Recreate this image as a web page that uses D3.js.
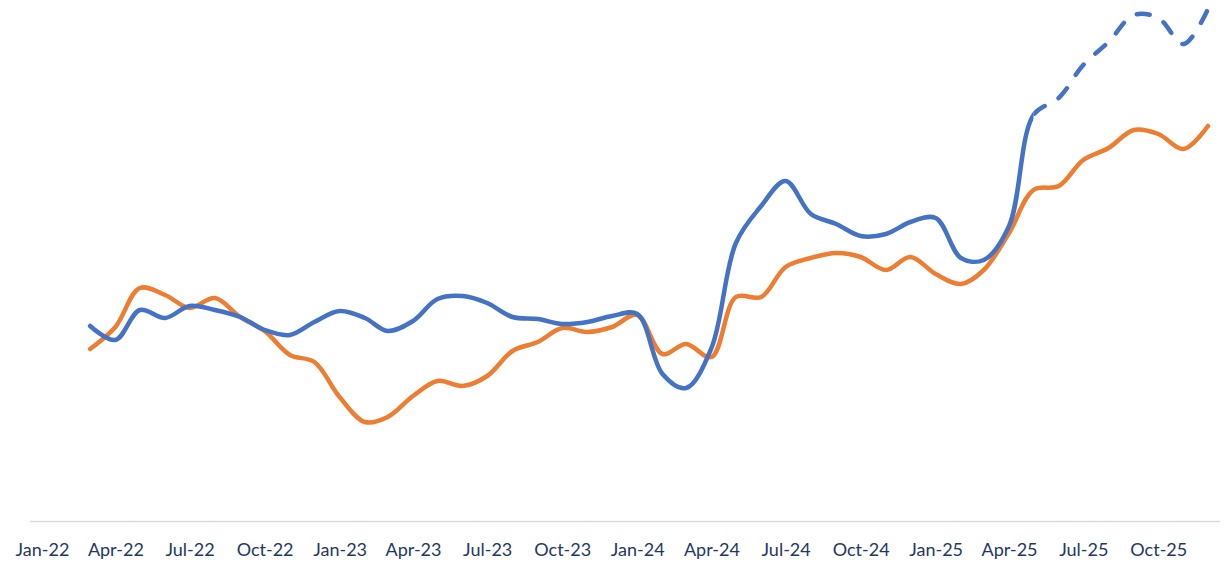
<!DOCTYPE html>
<html>
<head>
<meta charset="utf-8">
<script src="https://cdn.jsdelivr.net/npm/d3@7"></script>
<style>
  body { margin: 0; background: #fff; }
  svg { display: block; }
</style>
</head>
<body>
<div id="chart"></div>
<script>
var width = 1226;
var height = 561;

// months Mar-22 .. Dec-25
var months = ["2022-03","2022-04","2022-05","2022-06","2022-07","2022-08","2022-09","2022-10","2022-11","2022-12",
              "2023-01","2023-02","2023-03","2023-04","2023-05","2023-06","2023-07","2023-08","2023-09","2023-10","2023-11","2023-12",
              "2024-01","2024-02","2024-03","2024-04","2024-05","2024-06","2024-07","2024-08","2024-09","2024-10","2024-11","2024-12",
              "2025-01","2025-02","2025-03","2025-04","2025-05","2025-06","2025-07","2025-08","2025-09","2025-10","2025-11","2025-12"];

var blueValues = [195,181,211,203,215,211,204,191,186,199,
                  210,203,190,200,222,225,218,204,202,197,199,205,
                  207,147,133,173,278,315,340,307,297,285,287,299,
                  303,263,261,295,406,423,456,479,506,503,477,512];

var orangeValues = [172,194,233,226,213,223,204,190,166,159,
                    124,99,104,125,140,135,145,170,179,193,189,194,
                    206,167,177,164,224,224,254,263,268,264,251,264,
                    247,237,251,288,331,335,361,373,391,387,372,395];

// blue is dashed from here on (forecast)
var forecastStart = "2025-05";

var tickLabels = ["Jan-22","Apr-22","Jul-22","Oct-22","Jan-23","Apr-23","Jul-23","Oct-23",
                  "Jan-24","Apr-24","Jul-24","Oct-24","Jan-25","Apr-25","Jul-25","Oct-25"];

var parse = d3.timeParse("%Y-%m");

var svg = d3.select("#chart").append("svg")
  .attr("width", width)
  .attr("height", height);

var x = d3.scaleTime()
  .domain([parse("2022-01"), parse("2025-12")])
  .range([42, 1208]);

var y = d3.scaleLinear()
  .domain([0, 510])
  .range([521, 11]);

// axis line
svg.append("line")
  .attr("x1", 30).attr("x2", 1220)
  .attr("y1", 521.5).attr("y2", 521.5)
  .attr("stroke", "#d9d9d9")
  .attr("stroke-width", 1.5);

var xAxis = d3.axisBottom(x)
  .tickValues(tickLabels.map(function(t){ return d3.timeParse("%b-%y")(t); }))
  .tickFormat(d3.timeFormat("%b-%y"))
  .tickSize(0)
  .tickPadding(0);

var gx = svg.append("g")
  .attr("transform", "translate(0,521)")
  .call(xAxis);
gx.select(".domain").remove();
gx.selectAll("text")
  .attr("dy", 0)
  .attr("y", 35)
  .style("font-family", "Lato, 'Open Sans', sans-serif")
  .style("font-size", "18px")
  .style("fill", "#1f3864");

var line = d3.line()
  .x(function(d){ return x(parse(d.m)); })
  .y(function(d){ return y(d.v); })
  .curve(d3.curveCatmullRom.alpha(0.5));

var blue = months.map(function(m, i){ return {m: m, v: blueValues[i]}; });
var orange = months.map(function(m, i){ return {m: m, v: orangeValues[i]}; });
var xCut = x(parse(forecastStart));

var defs = svg.append("defs");
defs.append("clipPath").attr("id", "actual")
  .append("rect").attr("x", 0).attr("y", 0).attr("width", xCut).attr("height", height);
defs.append("clipPath").attr("id", "forecast")
  .append("rect").attr("x", xCut).attr("y", 0).attr("width", width - xCut).attr("height", height);

svg.append("path")
  .datum(orange)
  .attr("d", line)
  .attr("fill", "none")
  .attr("stroke", "#ed7d31")
  .attr("stroke-width", 4.5)
  .attr("stroke-linecap", "round")
  .attr("stroke-linejoin", "round");

svg.append("path")
  .datum(blue)
  .attr("d", line)
  .attr("clip-path", "url(#actual)")
  .attr("fill", "none")
  .attr("stroke", "#4472c4")
  .attr("stroke-width", 4.5)
  .attr("stroke-linecap", "round")
  .attr("stroke-linejoin", "round");

var dashed = svg.append("path")
  .datum(blue)
  .attr("d", line)
  .attr("clip-path", "url(#forecast)")
  .attr("fill", "none")
  .attr("stroke", "#4472c4")
  .attr("stroke-width", 4.5)
  .attr("stroke-linecap", "round")
  .attr("stroke-dasharray", "13 16");

// start the dash pattern at the forecast point
var node = dashed.node();
var total = node.getTotalLength();
var lo = 0, hi = total;
for (var k = 0; k < 40; k++) {
  var mid = (lo + hi) / 2;
  if (node.getPointAtLength(mid).x < xCut) lo = mid; else hi = mid;
}
dashed.attr("stroke-dashoffset", -lo);
</script>
</body>
</html>
